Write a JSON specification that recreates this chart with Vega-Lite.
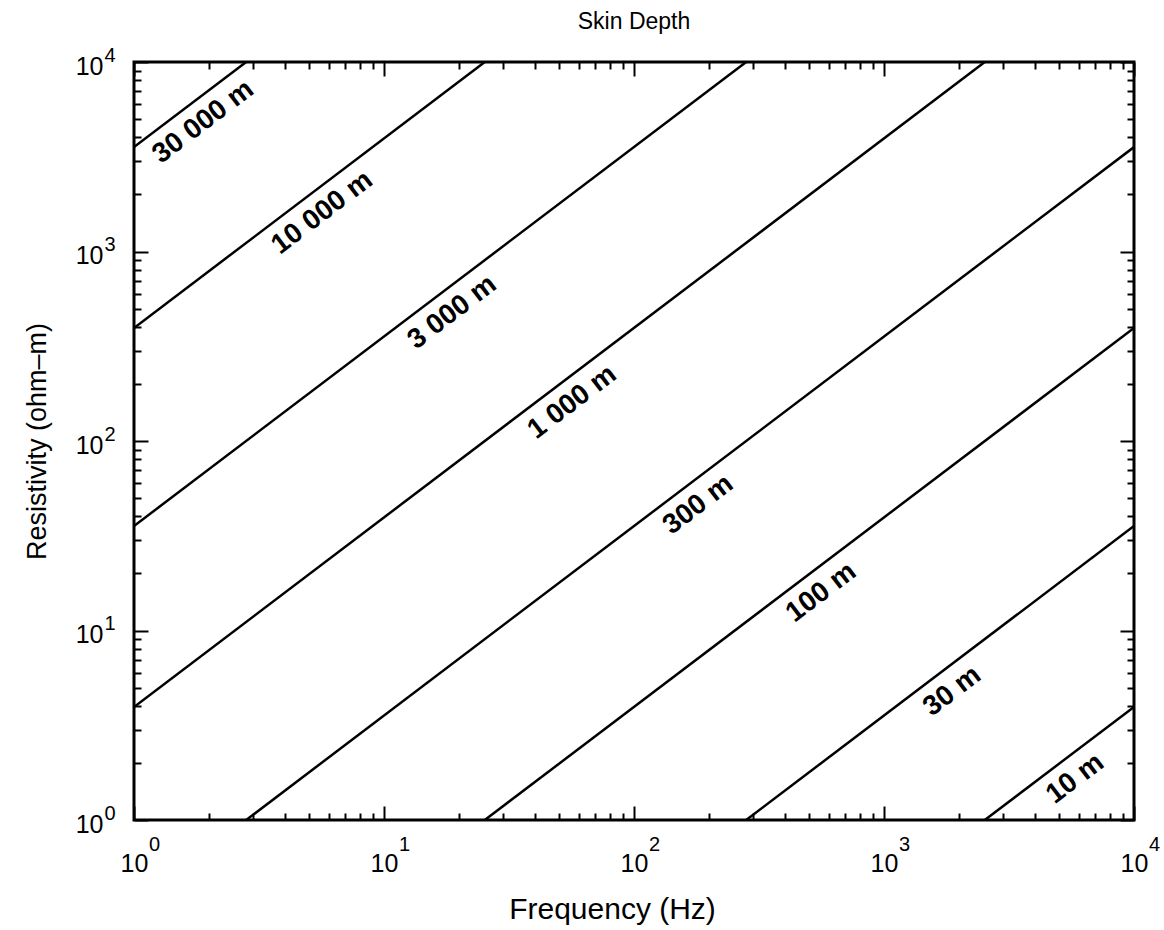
{
  "$schema": "https://vega.github.io/schema/vega-lite/v6.json",
  "width": 1000,
  "height": 758,
  "autosize": {"type": "none"},
  "padding": {"left": 134, "top": 62, "right": 30, "bottom": 110},
  "background": "white",
  "title": {"text": "Skin Depth", "fontSize": 23, "fontWeight": "normal", "font": "Liberation Sans", "color": "black", "offset": 11},
  "config": {
    "view": {"stroke": "black", "strokeWidth": 3},
    "font": "Liberation Sans",
    "axis": {"domain": false, "grid": false, "tickColor": "black", "tickWidth": 2, "labelColor": "black", "titleColor": "black", "labelFont": "Liberation Sans", "titleFont": "Liberation Sans", "labelOverlap": false, "labelFlush": false}
  },
  "datasets": {
    "lines": [
      {"depth": "30000", "f": 1, "rho": 3557},
      {"depth": "30000", "f": 2.81, "rho": 10000},
      {"depth": "10000", "f": 1, "rho": 395},
      {"depth": "10000", "f": 25.3, "rho": 10000},
      {"depth": "3000", "f": 1, "rho": 35.6},
      {"depth": "3000", "f": 281, "rho": 10000},
      {"depth": "1000", "f": 1, "rho": 3.95},
      {"depth": "1000", "f": 2530, "rho": 10000},
      {"depth": "300", "f": 2.81, "rho": 1},
      {"depth": "300", "f": 10000, "rho": 3557},
      {"depth": "100", "f": 25.3, "rho": 1},
      {"depth": "100", "f": 10000, "rho": 395},
      {"depth": "30", "f": 281, "rho": 1},
      {"depth": "30", "f": 10000, "rho": 35.6},
      {"depth": "10", "f": 2530, "rho": 1},
      {"depth": "10", "f": 10000, "rho": 3.95}
    ],
    "labels": [
      {"label": "30 000 m", "f": 1.675, "rho": 5958},
      {"label": "10 000 m", "f": 5.01, "rho": 1980},
      {"label": "3 000 m", "f": 16.6, "rho": 590},
      {"label": "1 000 m", "f": 50.1, "rho": 198},
      {"label": "300 m", "f": 160, "rho": 56.9},
      {"label": "100 m", "f": 497, "rho": 19.6},
      {"label": "30 m", "f": 1660, "rho": 5.9},
      {"label": "10 m", "f": 5150, "rho": 2.04}
    ]
  },
  "resolve": {"axis": {"x": "independent", "y": "independent"}},
  "layer": [
    {
      "data": {"name": "lines"},
      "mark": {"type": "line", "color": "black", "strokeWidth": 2.5, "clip": true},
      "encoding": {
        "x": {"field": "f", "type": "quantitative", "scale": {"type": "log", "domain": [1, 10000], "nice": false},
          "axis": {"orient": "bottom", "values": [1, 10, 100, 1000, 10000], "ticks": false, "labelPadding": 51, "labelFontSize": 25, "labelBaseline": "alphabetic", "labelAlign": "center",
            "labelExpr": "'10'",
            "title": "Frequency (Hz)", "titleFontSize": 30, "titleFontWeight": "normal", "titleX": 478, "titleY": 98, "titleBaseline": "alphabetic", "titleAlign": "center", "titleAnchor": null}},
        "y": {"field": "rho", "type": "quantitative", "scale": {"type": "log", "domain": [1, 10000], "nice": false},
          "axis": {"orient": "left", "values": [1, 10, 100, 1000, 10000], "ticks": false, "labelPadding": 31, "labelFontSize": 25, "labelOffset": 4, "labelBaseline": "middle", "labelAlign": "right",
            "labelExpr": "'10'",
            "title": "Resistivity (ohm–m)", "titleFontSize": 27, "titleFontWeight": "normal", "titleX": -89, "titleY": 379, "titleAngle": 270, "titleBaseline": "alphabetic", "titleAlign": "center", "titleAnchor": null}},
        "detail": {"field": "depth", "type": "nominal"}
      }
    },
    {
      "data": {"name": "labels"},
      "mark": {"type": "text", "angle": 322.8, "align": "center", "baseline": "middle", "dy": 22, "fontSize": 28, "fontWeight": "bold", "font": "Liberation Sans", "color": "black"},
      "encoding": {
        "x": {"field": "f", "type": "quantitative", "scale": {"type": "log", "domain": [1, 10000], "nice": false},
          "axis": {"orient": "bottom", "values": [1, 10, 100, 1000, 10000], "ticks": false, "labelPadding": 30, "labelFontSize": 20, "labelOffset": 20, "labelBaseline": "alphabetic", "labelAlign": "center",
            "labelExpr": "'' + round(log(datum.value)/LN10)", "title": null}},
        "y": {"field": "rho", "type": "quantitative", "scale": {"type": "log", "domain": [1, 10000], "nice": false},
          "axis": {"orient": "left", "values": [1, 10, 100, 1000, 10000], "ticks": false, "labelPadding": 19, "labelFontSize": 20, "labelOffset": -7, "labelBaseline": "middle", "labelAlign": "right",
            "labelExpr": "'' + round(log(datum.value)/LN10)", "title": null}},
        "text": {"field": "label", "type": "nominal"}
      }
    },
    {
      "data": {"name": "lines"},
      "mark": {"type": "line", "strokeOpacity": 0},
      "encoding": {
        "x": {"field": "f", "type": "quantitative", "scale": {"type": "log", "domain": [1, 10000], "nice": false},
          "axis": {"orient": "bottom", "values": [1, 10, 100, 1000, 10000], "tickSize": -14, "labels": false, "title": null}},
        "y": {"field": "rho", "type": "quantitative", "scale": {"type": "log", "domain": [1, 10000], "nice": false},
          "axis": {"orient": "left", "values": [1, 10, 100, 1000, 10000], "tickSize": -14, "labels": false, "title": null}},
        "detail": {"field": "depth", "type": "nominal"}
      }
    },
    {
      "data": {"name": "lines"},
      "mark": {"type": "line", "strokeOpacity": 0},
      "encoding": {
        "x": {"field": "f", "type": "quantitative", "scale": {"type": "log", "domain": [1, 10000], "nice": false},
          "axis": {"orient": "bottom", "values": [2,3,4,5,6,7,8,9,20,30,40,50,60,70,80,90,200,300,400,500,600,700,800,900,2000,3000,4000,5000,6000,7000,8000,9000], "tickSize": -7, "labels": false, "title": null}},
        "y": {"field": "rho", "type": "quantitative", "scale": {"type": "log", "domain": [1, 10000], "nice": false},
          "axis": {"orient": "left", "values": [2,3,4,5,6,7,8,9,20,30,40,50,60,70,80,90,200,300,400,500,600,700,800,900,2000,3000,4000,5000,6000,7000,8000,9000], "tickSize": -7, "labels": false, "title": null}},
        "detail": {"field": "depth", "type": "nominal"}
      }
    },
    {
      "data": {"name": "lines"},
      "mark": {"type": "line", "strokeOpacity": 0},
      "encoding": {
        "x": {"field": "f", "type": "quantitative", "scale": {"type": "log", "domain": [1, 10000], "nice": false},
          "axis": {"orient": "top", "values": [1, 10, 100, 1000, 10000], "tickSize": -14, "labels": false, "title": null}},
        "y": {"field": "rho", "type": "quantitative", "scale": {"type": "log", "domain": [1, 10000], "nice": false},
          "axis": {"orient": "right", "values": [1, 10, 100, 1000, 10000], "tickSize": -14, "labels": false, "title": null}},
        "detail": {"field": "depth", "type": "nominal"}
      }
    },
    {
      "data": {"name": "lines"},
      "mark": {"type": "line", "strokeOpacity": 0},
      "encoding": {
        "x": {"field": "f", "type": "quantitative", "scale": {"type": "log", "domain": [1, 10000], "nice": false},
          "axis": {"orient": "top", "values": [2,3,4,5,6,7,8,9,20,30,40,50,60,70,80,90,200,300,400,500,600,700,800,900,2000,3000,4000,5000,6000,7000,8000,9000], "tickSize": -7, "labels": false, "title": null}},
        "y": {"field": "rho", "type": "quantitative", "scale": {"type": "log", "domain": [1, 10000], "nice": false},
          "axis": {"orient": "right", "values": [2,3,4,5,6,7,8,9,20,30,40,50,60,70,80,90,200,300,400,500,600,700,800,900,2000,3000,4000,5000,6000,7000,8000,9000], "tickSize": -7, "labels": false, "title": null}},
        "detail": {"field": "depth", "type": "nominal"}
      }
    }
  ]
}
